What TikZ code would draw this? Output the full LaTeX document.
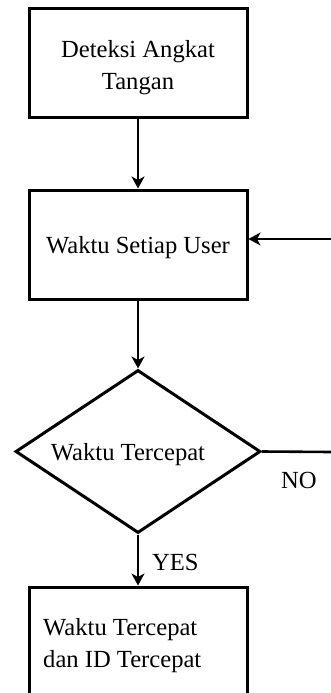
\documentclass[tikz,border=0pt]{standalone}
\usepackage{fontspec}
\setmainfont{Liberation Serif}
\usetikzlibrary{arrows.meta,shapes.geometric}
\begin{document}
\begin{tikzpicture}[x=1pt,y=-1pt,
  box/.style={draw, line width=3pt, minimum width=218pt, inner sep=0pt, anchor=center},
  decision/.style={draw, diamond, line width=3pt, minimum width=245pt, minimum height=163pt, inner sep=0pt},
  txt/.style={inner sep=0pt, font=\fontsize{24.6}{32}\selectfont},
  link/.style={line width=2.6pt, -{Stealth[length=12pt,width=13pt,inset=3.5pt]}},
  wire/.style={line width=2.6pt}
]
\useasboundingbox (0,0) rectangle (331,693);

% process boxes
\node[box, minimum height=108pt] (b1) at (138,63) {};
\node[txt, align=center] (t1) at (138,67.25) {Deteksi Angkat\\Tangan};

\node[box, minimum height=109pt] (b2) at (138,244.5) {};
\node[txt, anchor=base] (t2) at (138,253) {Waktu Setiap User};

% decision
\node[decision] (d) at (138,451.5) {};
\node[txt, anchor=base] (td) at (128,460) {Waktu Tercepat};

% result box (runs past the lower edge)
\node[box, minimum height=133pt] (b3) at (138,653.5) {};
\node[txt, align=left, anchor=west] (t3) at (43,645.75) {Waktu Tercepat\\dan ID Tercepat};

% connectors
\draw[link] (b1.south) -- (b2.north);
\draw[link] (b2.south) -- (d.north);
\draw[link] (d.south) -- (b3.north);
\node[txt, anchor=base west] (ylab) at (152,570) {YES};

% loop back for the NO branch
\coordinate (noend) at (331,452);
\coordinate (back) at (331,239);
\draw[wire] (d.east) -- (noend);
\node[txt, anchor=base west] (nlab) at (281,488) {NO};
\draw[link] (back) -- (b2.east |- back);
\end{tikzpicture}
\end{document}
